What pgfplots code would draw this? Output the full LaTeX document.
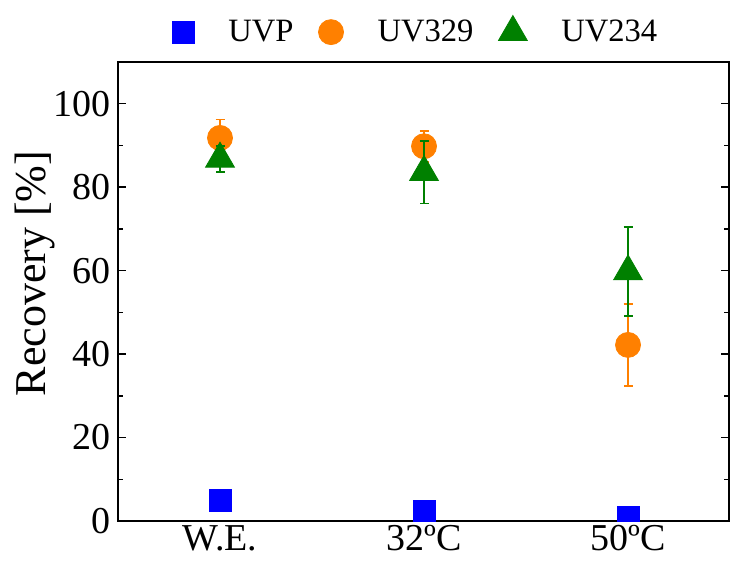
\documentclass[border=0pt]{standalone}
\usepackage{pgfplots}
\pgfplotsset{compat=1.18}
\usepackage{fontspec}
\setmainfont{Liberation Serif}
\definecolor{uvpblue}{RGB}{0,0,255}
\definecolor{uvorange}{RGB}{255,128,0}
\definecolor{uvgreen}{RGB}{0,128,0}

% x: 0 = W.E., 1 = 32ºC, 2 = 50ºC
\pgfplotstableread{
x y e
0 5.0 0
1 2.4 0
2 0.8 0
}\uvp
\pgfplotstableread{
x y e
0 91.8 4.4
1 89.8 3.7
2 42.2 9.8
}\uvthree
\pgfplotstableread{
x y e
0 86.8 3.1
1 83.6 7.5
2 59.8 10.6
}\uvtwo

\begin{document}
\begin{tikzpicture}
\useasboundingbox (-59pt,-20pt) rectangle (306.5pt,260.5pt);
\begin{axis}[
  width=305.5pt, height=229.5pt, scale only axis,
  xmin=-0.5, xmax=2.495, ymin=0, ymax=110,
  xtick={0,1,2}, xticklabels={W.E., 32ºC, 50ºC},
  xtick style={draw=none},
  ytick={0,20,...,100}, minor ytick={10,30,...,90},
  tick align=inside,
  major tick length=4pt, minor tick length=2.5pt,
  axis line style={line width=0.85pt},
  every tick/.style={black, line width=0.7pt},
  /pgf/number format/assume math mode=true,
  tick label style={font=\fontsize{19}{22}\selectfont},
  xticklabel style={inner ysep=2pt},
  ylabel={Recovery [\%]},
  ylabel style={font=\fontsize{22}{25}\selectfont, yshift=-7.5pt, xshift=9pt},
  clip marker paths=true,
  legend style={at={(0.489,1.02)}, anchor=south, draw=none, fill=none,
    legend columns=-1, font=\fontsize{16.3}{19}\selectfont,
    /tikz/every even column/.append style={column sep=10.5pt}},
  error bars/y dir=both, error bars/y explicit,
]
\addplot[only marks, mark=square*, mark size=5.5pt, color=uvpblue]
  table[x=x, y=y] {\uvp};
\addlegendentry{\hspace{15pt}UVP}
\addplot[only marks, mark=*, mark size=6.25pt, color=uvorange,
  error bars/.cd, error bar style={line width=0.8pt},
  error mark options={line width=0.8pt, mark size=2.25pt, rotate=90}]
  table[x=x, y=y, y error=e] {\uvthree};
\addlegendentry{\hspace{15pt}UV329}
\addplot[only marks, mark=triangle*, mark size=8.3pt, color=uvgreen,
  error bars/.cd, error bar style={line width=0.8pt},
  error mark options={line width=0.8pt, mark size=2.25pt, rotate=90}]
  table[x=x, y=y, y error=e] {\uvtwo};
\addlegendentry{\hspace{15pt}UV234}
\end{axis}
\end{tikzpicture}
\end{document}
